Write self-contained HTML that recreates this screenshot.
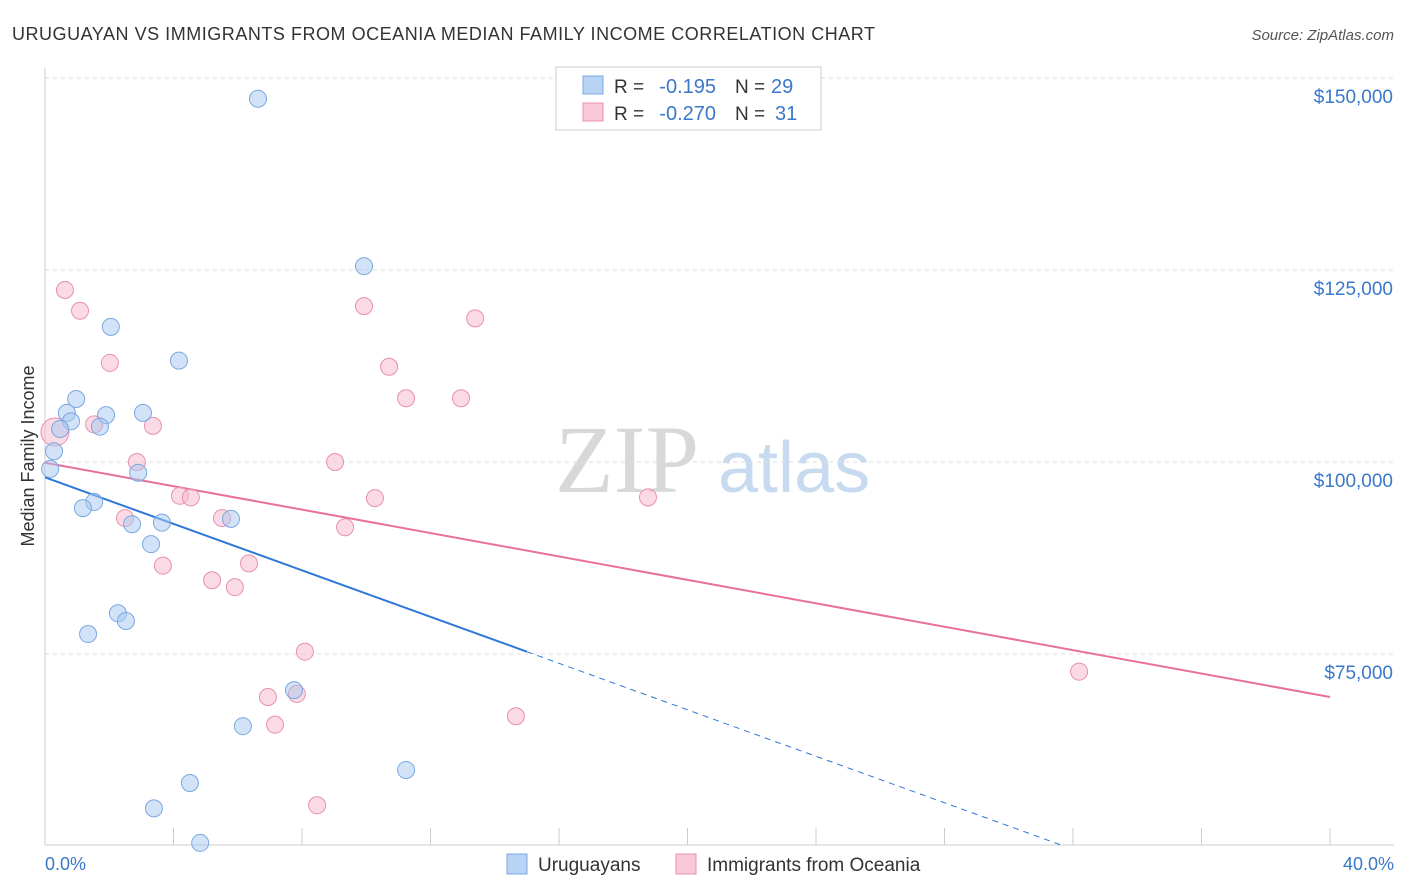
<!DOCTYPE html>
<html><head><meta charset="utf-8"><style>
body{margin:0;background:#fff;font-family:"Liberation Sans",sans-serif;}
svg{display:block}
</style></head><body>
<svg id="chart" width="1406" height="892">
<text x="12" y="40" font-size="18" fill="#333" textLength="863" lengthAdjust="spacing">URUGUAYAN VS IMMIGRANTS FROM OCEANIA MEDIAN FAMILY INCOME CORRELATION CHART</text>
<text x="1394" y="40" font-size="15" fill="#555" text-anchor="end" font-style="italic">Source: ZipAtlas.com</text>
<text x="34" y="456" font-size="18" fill="#333" text-anchor="middle" transform="rotate(-90 34 456)">Median Family Income</text>
<text x="555" y="492" font-size="96" fill="#d8d8d8" font-family="Liberation Serif,serif">ZIP</text>
<text x="718" y="492" font-size="72" fill="#c8daf0">atlas</text>
<g id="grid"></g><g id="axes"></g><g id="lines"></g><g id="dots"></g>
<g>
<rect x="556" y="67" width="265" height="63" fill="#fff" stroke="#ccc"/>
<rect x="583" y="76" width="20" height="18" fill="#b8d4f4" stroke="#7aa8e0"/>
<rect x="583" y="103" width="20" height="18" fill="#fac8d8" stroke="#e890b0"/>
<text x="614" y="93" font-size="19" fill="#333">R =</text>
<text x="716" y="93" font-size="20" fill="#3a78c8" text-anchor="end">-0.195</text>
<text x="735" y="93" font-size="19" fill="#333">N =</text>
<text x="771" y="93" font-size="20" fill="#3a78c8">29</text>
<text x="614" y="120" font-size="19" fill="#333">R =</text>
<text x="716" y="120" font-size="20" fill="#3a78c8" text-anchor="end">-0.270</text>
<text x="735" y="120" font-size="19" fill="#333">N =</text>
<text x="775" y="120" font-size="20" fill="#3a78c8">31</text>
</g>
<g>
<rect x="507" y="854" width="20" height="20" fill="#b8d4f4" stroke="#7aa8e0"/>
<text x="538" y="871" font-size="19" fill="#333">Uruguayans</text>
<rect x="676" y="854" width="20" height="20" fill="#fac8d8" stroke="#e890b0"/>
<text x="707" y="871" font-size="19" fill="#333">Immigrants from Oceania</text>
</g>
<text x="45" y="870" font-size="18" fill="#3a78c8">0.0%</text>
<text x="1394" y="870" font-size="18" fill="#3a78c8" text-anchor="end">40.0%</text>
</svg>
<script>
const yTicks=[150000,125000,100000,75000];
const yTickLabels=["$150,000","$125,000","$100,000","$75,000"];
const xTicks=[0,4,8,12,16,20,24,28,32,36,40];
const blueX=[6.63,9.93,2.05,4.17,0.97,0.68,0.81,1.90,3.05,1.71,0.47,0.28,0.16,2.90,1.53,1.18,5.79,3.64,2.71,3.30,2.27,2.52,1.34,7.75,6.16,11.24,4.51,3.39,4.83];
const blueY=[147.3,125.5,117.6,113.2,108.2,106.4,105.3,106.1,106.4,104.6,104.3,101.4,99.1,98.6,94.8,94.0,92.6,92.1,91.9,89.3,80.3,79.3,77.6,70.3,65.6,59.9,58.2,54.9,50.4];
const pinkX=[0.62,1.09,9.93,13.39,2.02,10.71,11.24,12.95,1.53,3.36,0.31,2.86,9.03,4.20,4.54,10.27,18.77,2.49,5.51,9.34,3.67,6.35,5.20,5.91,8.09,6.94,7.84,7.16,14.66,8.47,32.19];
const pinkY=[122.4,119.7,120.3,118.7,112.9,112.4,108.3,108.3,104.9,104.7,103.9,100,100,95.6,95.4,95.3,95.4,92.7,92.7,91.5,86.5,86.8,84.6,83.7,75.3,69.4,69.8,65.8,66.9,55.3,72.7];
const pinkWeight=[1,1,1,1,1,1,1,1,1,1,2,1,1,1,1,1,1,1,1,1,1,1,1,1,1,1,1,1,1,1,1];
const blueTrend=[98.0,75.3,15.0];
const pinkTrend=[99.9,69.4];
const NS="http://www.w3.org/2000/svg";
const X=v=>45+v/40*1285;
const Y=v=>462-(v-100000)*192/25000;
function mk(parent,tag,attrs){const e=document.createElementNS(NS,tag);for(const k in attrs)e.setAttribute(k,attrs[k]);document.getElementById(parent).appendChild(e);return e;}
yTicks.forEach((t,i)=>{
 const g=mk('grid','line',{x1:45,x2:1394,y1:Y(t),y2:Y(t),stroke:'#ddd','stroke-dasharray':'4,4'});
 
 
 const l=mk('grid','text',{x:1393,y:Y(t)+25,'font-size':19,fill:'#3a78c8','text-anchor':'end'});
 l.textContent=yTickLabels[i];
 
 
});
const ya=mk('axes','line',{x1:45,x2:45,y1:68,y2:845,stroke:'#ccc'});


const xa=mk('axes','line',{x1:45,x2:1394,y1:845,y2:845,stroke:'#ccc'});


xTicks.forEach(t=>{
 const k=mk('axes','line',{x1:X(t),x2:X(t),y1:828,y2:845,stroke:'#ccc'});
 
 
});
function dots(xs,ys,ws,fill,stroke,name){xs.forEach((x,i)=>{
 const r=ws?(ws[i]>1?14:8.5):8.5;
 const c=mk('dots','circle',{cx:X(x),cy:Y(ys[i]*1000),r:r,fill:fill,'fill-opacity':0.5,stroke:stroke,'stroke-width':1});
 
 
});}
dots(pinkX,pinkY,pinkWeight,'#f5b8cc','#e890b0','oceania-point');
dots(blueX,blueY,null,'#a8c8f0','#7aa8e0','uruguayan-point');
const bSlope=(blueTrend[1]-blueTrend[0])/blueTrend[2];
const b1=mk('lines','line',{x1:X(0),y1:Y(blueTrend[0]*1000),x2:X(blueTrend[2]),y2:Y(blueTrend[1]*1000),stroke:'#2f78d8','stroke-width':2});


const xEnd=(50-blueTrend[0])/bSlope;
const b2=mk('lines','line',{x1:X(blueTrend[2]),y1:Y(blueTrend[1]*1000),x2:X(xEnd),y2:Y(50000),stroke:'#2f78d8','stroke-width':1,'stroke-dasharray':'6,5'});


const p1=mk('lines','line',{x1:X(0),y1:Y(pinkTrend[0]*1000),x2:X(40),y2:Y(pinkTrend[1]*1000),stroke:'#e8709a','stroke-width':2});


</script>
</body></html>
